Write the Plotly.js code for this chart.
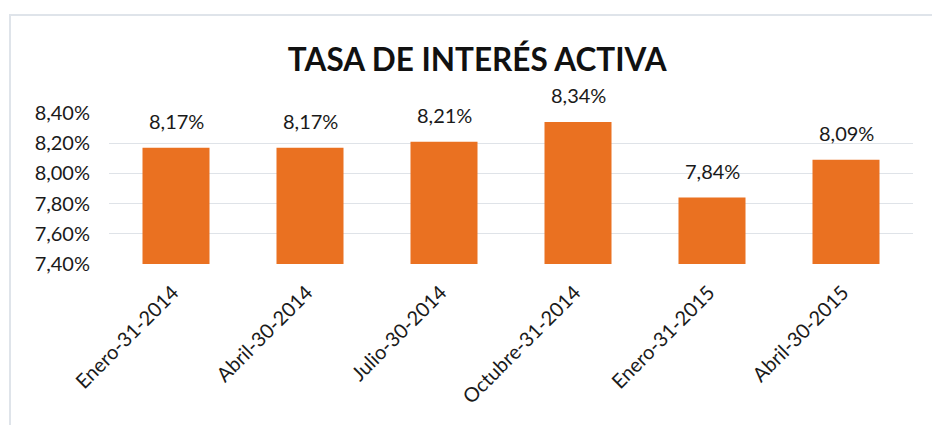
<!DOCTYPE html>
<html>
<head>
<meta charset="utf-8">
<script src="https://cdn.plot.ly/plotly-3.0.1.min.js"></script>
<style>
html,body{margin:0;padding:0;width:932px;height:425px;overflow:hidden;background:#fff;}
#frame{position:absolute;left:9px;top:14px;width:1000px;height:1000px;border:2px solid #dfe4ea;box-sizing:border-box;pointer-events:none;}
#chart{position:absolute;left:0;top:0;width:932px;height:425px;}
</style>
</head>
<body>
<div id="chart"></div>
<div id="frame"></div>
<script>
const categories = ["Enero-31-2014","Abril-30-2014","Julio-30-2014","Octubre-31-2014","Enero-31-2015","Abril-30-2015"];
const rates = [0.0817, 0.0817, 0.0821, 0.0834, 0.0784, 0.0809];
const yTicks = [0.074, 0.076, 0.078, 0.080, 0.082, 0.084];

const font = "Lato, 'Open Sans', sans-serif";
function pctLabel(v){ return (v*100).toFixed(2).replace('.', ',') + '%'; }

const trace = {
  type: 'bar',
  x: categories,
  y: rates,
  width: 0.5,
  marker: {color: '#EA7121', line: {width: 0}},
  hoverinfo: 'skip'
};
const annotations = categories.map((c, i) => ({
  x: c, y: rates[i], xref: 'x', yref: 'y',
  text: pctLabel(rates[i]),
  showarrow: false, yanchor: 'bottom', yshift: 13,
  font: {family: font, size: 20, color: '#1a1a1a'}
}));

const layout = {
  width: 932, height: 425,
  margin: {l: 109, r: 19, t: 113, b: 161},
  paper_bgcolor: 'rgba(0,0,0,0)', plot_bgcolor: 'rgba(0,0,0,0)',
  separators: ',.',
  showlegend: false,
  title: {
    text: '<b>TASA DE INTERÉS ACTIVA</b>',
    font: {family: font, size: 31.5, color: '#111'},
    x: 0.512, xref: 'container', xanchor: 'center',
    y: 1 - 60/425, yref: 'container', yanchor: 'middle'
  },
  xaxis: {
    type: 'category',
    tickangle: -45,
    tickfont: {family: font, size: 20, color: '#1a1a1a'},
    showgrid: false, showline: false, ticks: '', zeroline: false,
    ticklabelstandoff: 12,
    ticklabelshift: -3
  },
  yaxis: {
    range: [0.074, 0.084],
    tickvals: yTicks,
    tickformat: '.2%',
    tickfont: {family: font, size: 20, color: '#1a1a1a'},
    showgrid: true, gridcolor: '#dfe3e8', gridwidth: 1,
    zeroline: false, showline: false, ticks: '',
    ticklabelstandoff: 18
  },
  annotations: annotations
};
Plotly.newPlot('chart', [trace], layout, {displayModeBar: false, staticPlot: true});
</script>
</body>
</html>
